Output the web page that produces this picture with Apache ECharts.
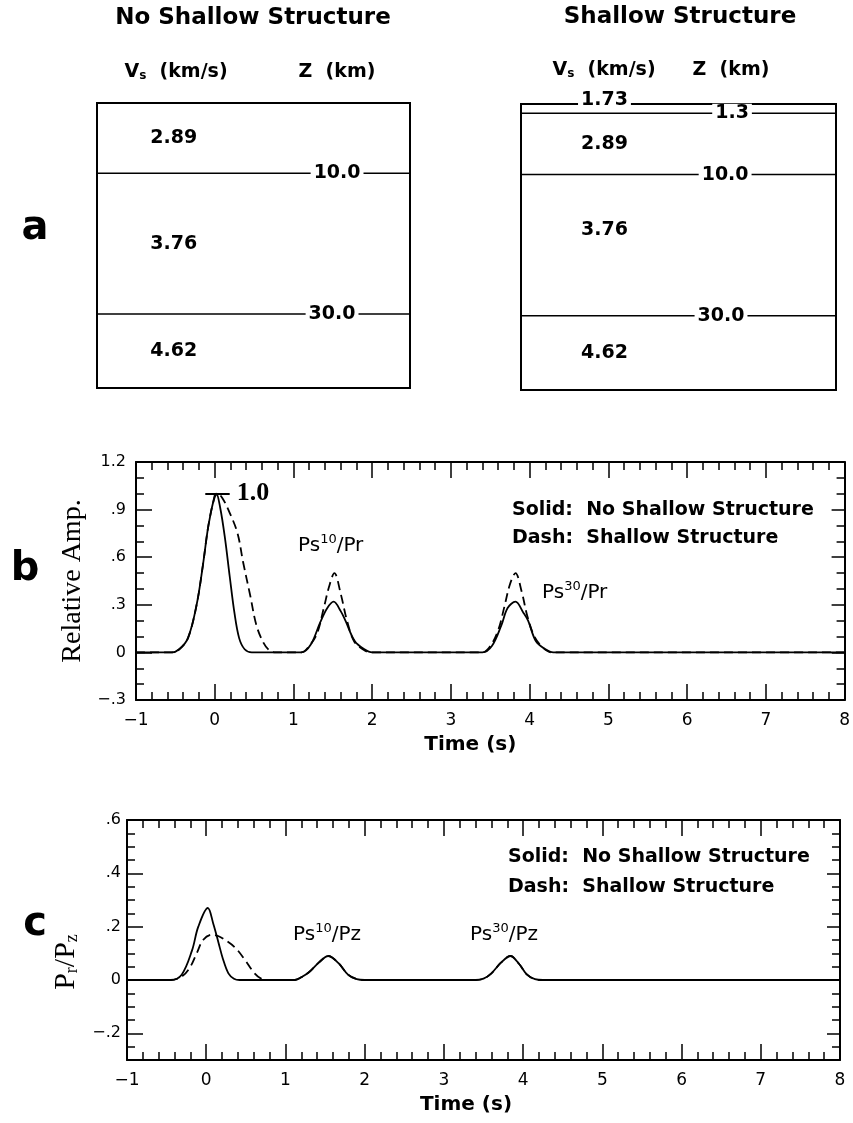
<!DOCTYPE html>
<html>
<head>
<meta charset="utf-8">
<script src="https://cdn.jsdelivr.net/npm/echarts@6/dist/echarts.min.js"></script>
<style>
html, body { margin: 0; padding: 0; background: #fff; }
#chart { width: 853px; height: 1123px; }
</style>
</head>
<body>
<div id="chart"></div>
<script>
// panel a: layered crust models (depth of interfaces in km, Vs in km/s)
var boxBottom = 40.5;
var plainDepths = [10.0, 30.0];
var plainVs = [2.89, 3.76, 4.62];
var shallowDepths = [1.3, 10.0, 30.0];
var shallowVs = [1.73, 2.89, 3.76, 4.62];

// panel b: relative amplitude vs time (s)
var ampSolid = [[-1, 0], [-0.55, 0], [-0.45, 0.02], [-0.34, 0.09], [-0.23, 0.3], [-0.15, 0.55], [-0.08, 0.8],
  [0.0, 0.99], [0.02, 1.0], [0.07, 0.91], [0.13, 0.72], [0.19, 0.48], [0.25, 0.25], [0.31, 0.09], [0.38, 0.02],
  [0.47, 0], [1.1, 0], [1.22, 0.05], [1.34, 0.19], [1.43, 0.28], [1.51, 0.32], [1.6, 0.26], [1.66, 0.2],
  [1.78, 0.07], [1.9, 0.02], [2.0, 0], [3.4, 0], [3.52, 0.04], [3.64, 0.17], [3.72, 0.28], [3.82, 0.32],
  [3.92, 0.25], [3.98, 0.2], [4.08, 0.07], [4.2, 0.02], [4.3, 0], [8, 0]];
var ampDash = [[-1, 0], [-0.55, 0], [-0.45, 0.02], [-0.34, 0.09], [-0.23, 0.3], [-0.15, 0.55], [-0.08, 0.8],
  [0.0, 0.98], [0.04, 1.0], [0.1, 0.97], [0.19, 0.88], [0.29, 0.75], [0.36, 0.57], [0.45, 0.36], [0.53, 0.17],
  [0.62, 0.06], [0.7, 0.01], [0.78, 0], [1.1, 0], [1.2, 0.04], [1.3, 0.12], [1.39, 0.29], [1.45, 0.41],
  [1.52, 0.5], [1.6, 0.37], [1.68, 0.2], [1.77, 0.07], [1.88, 0.02], [1.98, 0], [3.4, 0], [3.5, 0.04],
  [3.6, 0.14], [3.68, 0.29], [3.75, 0.43], [3.82, 0.5], [3.9, 0.38], [3.97, 0.23], [4.06, 0.1], [4.17, 0.03],
  [4.28, 0], [8, 0]];

// panel c: Pr/Pz vs time (s)
var ratioSolid = [[-1, 0], [-0.45, 0], [-0.31, 0.02], [-0.18, 0.11], [-0.1, 0.2], [0.02, 0.27], [0.09, 0.21],
  [0.155, 0.14], [0.21, 0.08], [0.28, 0.025], [0.35, 0.005], [0.42, 0], [1.12, 0], [1.2, 0.01], [1.3, 0.03],
  [1.42, 0.065], [1.54, 0.09], [1.67, 0.063], [1.79, 0.02], [1.9, 0.003], [2.0, 0], [3.4, 0], [3.5, 0.005],
  [3.6, 0.025], [3.72, 0.065], [3.84, 0.09], [3.95, 0.06], [4.05, 0.02], [4.15, 0.003], [4.25, 0], [8, 0]];
var ratioDash = [[-1, 0], [-0.45, 0], [-0.3, 0.015], [-0.2, 0.05], [-0.12, 0.1], [-0.04, 0.15], [0.07, 0.17],
  [0.15, 0.165], [0.24, 0.15], [0.37, 0.12], [0.49, 0.075], [0.61, 0.025], [0.7, 0.004], [0.78, 0], [1.12, 0],
  [1.2, 0.01], [1.3, 0.03], [1.42, 0.065], [1.54, 0.09], [1.67, 0.063], [1.79, 0.02], [1.9, 0.003], [2.0, 0],
  [3.4, 0], [3.5, 0.005], [3.6, 0.025], [3.72, 0.065], [3.84, 0.09], [3.95, 0.06], [4.05, 0.02], [4.15, 0.003],
  [4.25, 0], [8, 0]];

var timeRange = [-1, 8];
var ampRange = [-0.3, 1.2];
var ratioRange = [-0.3, 0.6];
var refAmp = 1.0;

var SANS = '"DejaVu Sans", sans-serif';
var SERIF = '"Liberation Serif", "DejaVu Serif", serif';
var black = '#000';

function decLabel(v) {
  if (Math.abs(v) < 1e-9) return '0';
  var s = Math.abs(v).toFixed(1);
  if (s.charAt(0) === '0') s = s.slice(1);
  return (v < 0 ? '\u2212' : '') + s;
}
function timeLabel(v) {
  return v < 0 ? '\u2212' + (-v) : String(v);
}

// layer box: interfaces as lines, Vs and depth as labels
function layerSeries(idx, depths, vs, vsX, depthX, vsNudge) {
  var out = [];
  depths.forEach(function (d) {
    out.push({
      type: 'line', xAxisIndex: idx, yAxisIndex: idx, data: [[0, d], [1, d]],
      showSymbol: false, silent: true, lineStyle: { color: black, width: 1.5 }, z: 2
    });
  });
  var bounds = [0].concat(depths, [boxBottom]);
  var vsData = vs.map(function (v, i) {
    var mid = (bounds[i] + bounds[i + 1]) / 2;
    if (bounds[i + 1] - bounds[i] < 3) mid = bounds[i];
    return { value: [vsX, mid], name: v.toFixed(2), label: { offset: [0, vsNudge[i]] } };
  });
  var labelStyle = {
    show: true, position: 'inside', formatter: '{b}', color: black,
    fontFamily: SANS, fontWeight: 'bold', fontSize: 19,
    backgroundColor: '#fff', padding: [0, 3]
  };
  out.push({
    type: 'scatter', xAxisIndex: idx, yAxisIndex: idx, symbolSize: 0, silent: true, clip: false, z: 5,
    itemStyle: { opacity: 1 }, data: vsData, label: labelStyle
  });
  var dData = depths.map(function (d, i) {
    return { value: [depthX[i], d], name: d.toFixed(1) };
  });
  out.push({
    type: 'scatter', xAxisIndex: idx, yAxisIndex: idx, symbolSize: 0, silent: true, clip: false, z: 5,
    itemStyle: { opacity: 1 }, data: dData, label: labelStyle
  });
  return out;
}

function timeAxes(grid, nameShift) {
  var base = {
    type: 'value', gridIndex: grid, min: timeRange[0], max: timeRange[1], interval: 1,
    axisLine: { onZero: false, lineStyle: { color: black, width: 2 } },
    axisTick: { inside: true, length: 16, lineStyle: { color: black, width: 1.5 } },
    minorTick: { show: true, splitNumber: 5, length: 8, lineStyle: { color: black, width: 1.5 } },
    splitLine: { show: false }, minorSplitLine: { show: false }
  };
  return [
    Object.assign({}, base, {
      position: 'bottom', name: 'Time (s)', nameLocation: 'middle', nameGap: 35,
      nameTextStyle: { fontFamily: SANS, fontWeight: 'bold', fontSize: 20, color: black, padding: [0, nameShift, 0, 0] },
      axisLabel: { margin: 12, fontFamily: SANS, fontSize: 17, color: black, formatter: timeLabel }
    }),
    Object.assign({}, base, { position: 'top', axisLabel: { show: false } })
  ];
}

function valueAxes(grid, range, step, minorSplit, name, nameGap, nameRich, namePad, labelMargin) {
  var base = {
    type: 'value', gridIndex: grid, min: range[0], max: range[1],
    axisLine: { onZero: false, lineStyle: { color: black, width: 2 } },
    axisTick: { inside: true, length: 16, lineStyle: { color: black, width: 1.5 } },
    minorTick: { show: true, splitNumber: minorSplit, length: 8, lineStyle: { color: black, width: 1.5 } },
    splitLine: { show: false }, minorSplitLine: { show: false }
  };
  if (step) base.interval = step; else base.splitNumber = 5;
  return [
    Object.assign({}, base, {
      position: 'left', name: name, nameLocation: 'middle', nameRotate: 90, nameGap: nameGap,
      nameTextStyle: { fontFamily: SERIF, fontSize: 28, color: black, rich: nameRich, padding: namePad },
      axisLabel: {
        margin: labelMargin, fontFamily: SANS, fontSize: 16, color: black,
        formatter: function (v) { return v < range[0] + 1e-6 && !step ? '' : decLabel(v); }
      }
    }),
    Object.assign({}, base, { position: 'right', axisLabel: { show: false }, axisTick: Object.assign({}, base.axisTick, { length: 13 }) })
  ];
}

var hiddenX = function (g) { return { type: 'value', gridIndex: g, min: 0, max: 1, show: false }; };
var hiddenY = function (g) { return { type: 'value', gridIndex: g, min: 0, max: boxBottom, inverse: true, show: false }; };

var tb = timeAxes(2, 40), tc = timeAxes(3, 35);
var yb = valueAxes(2, ampRange, 0.3, 3, 'Relative Amp.', 35, null, [0, 0, 0, 0], 10);
var yc = valueAxes(3, ratioRange, null, 4, '{p|P}{s|r}{p|/P}{s|z}', 33, {
  p: { fontFamily: SERIF, fontSize: 30, color: black },
  s: { fontFamily: SERIF, fontSize: 18, color: black, verticalAlign: 'bottom' }
}, [0, 44, 0, 0], 6);

var lineBase = { type: 'line', showSymbol: false, silent: true, smooth: 0.35, z: 3 };
function curve(xi, data, dashed, extra) {
  return Object.assign({}, lineBase, {
    xAxisIndex: xi, yAxisIndex: xi, data: data,
    lineStyle: { color: black, width: 1.8, type: dashed ? [9, 5] : 'solid' }
  }, extra || {});
}

// xAxis / yAxis indices: 0 a-left, 1 a-right, 2/3 panel b, 4/5 panel c
var series = []
  .concat(layerSeries(0, plainDepths, plainVs, 0.245, [0.767, 0.751], [0, 0, 0]))
  .concat(layerSeries(1, shallowDepths, shallowVs, 0.265, [0.67, 0.648, 0.635], [-4, 0, -15, 0]))
  .concat([
    curve(2, ampSolid, false),
    curve(2, ampDash, true, {
      markLine: {
        silent: true, symbol: ['none', 'none'],
        lineStyle: { color: black, width: 2, type: 'solid' },
        label: { show: true, position: 'end', distance: 7, formatter: refAmp.toFixed(1),
          fontFamily: SERIF, fontWeight: 'bold', fontSize: 26, color: black },
        data: [[{ coord: [-0.12, refAmp] }, { coord: [0.19, refAmp] }]]
      }
    }),
    curve(4, ratioSolid, false),
    curve(4, ratioDash, true)
  ]);

function txt(x, y, text, font, align, rich) {
  return { type: 'text', x: x, y: y, silent: true, z: 10,
    style: { text: text, font: font, fill: black, align: align || 'left', verticalAlign: 'middle', rich: rich } };
}
var boldFont = 'bold 19px ' + SANS;
var vsRich = {
  v: { fontFamily: SANS, fontWeight: 'bold', fontSize: 19, fill: black },
  s: { fontFamily: SANS, fontWeight: 'bold', fontSize: 12, fill: black, verticalAlign: 'bottom' }
};
var psRich = {
  n: { fontFamily: SANS, fontSize: 20, fill: black, lineHeight: 25 },
  u: { fontFamily: SANS, fontSize: 13, fill: black, verticalAlign: 'top', lineHeight: 25 }
};

var chart = echarts.init(document.getElementById('chart'), null, { renderer: 'canvas' });
chart.setOption({
  backgroundColor: '#fff',
  animation: false,
  grid: [
    { left: 97, top: 103, width: 313, height: 285, show: true, borderColor: black, borderWidth: 2 },
    { left: 521, top: 104, width: 315, height: 286, show: true, borderColor: black, borderWidth: 2 },
    { left: 136, top: 462, width: 710, height: 238 },
    { left: 127, top: 820, width: 713, height: 240 }
  ],
  xAxis: [hiddenX(0), hiddenX(1), tb[0], tb[1], tc[0], tc[1]],
  yAxis: [hiddenY(0), hiddenY(1), yb[0], yb[1], yc[0], yc[1]],
  series: series,
  graphic: [
    txt(253, 18, 'No Shallow Structure', 'bold 23px ' + SANS, 'center'),
    txt(680, 17, 'Shallow Structure', 'bold 23px ' + SANS, 'center'),
    txt(176, 72, '{v|V}{s|s}{v|  (km/s)}', boldFont, 'center', vsRich),
    txt(337, 72, 'Z  (km)', boldFont, 'center'),
    txt(604, 70, '{v|V}{s|s}{v|  (km/s)}', boldFont, 'center', vsRich),
    txt(731, 70, 'Z  (km)', boldFont, 'center'),
    txt(35, 229, 'a', 'bold 40px ' + SANS, 'center'),
    txt(25, 570, 'b', 'bold 40px ' + SANS, 'center'),
    txt(35, 925, 'c', 'bold 40px ' + SANS, 'center'),
    txt(512, 510, 'Solid:  No Shallow Structure', boldFont),
    txt(512, 538, 'Dash:  Shallow Structure', boldFont),
    txt(508, 857, 'Solid:  No Shallow Structure', boldFont),
    txt(508, 887, 'Dash:  Shallow Structure', boldFont),
    txt(298, 546, '{n|Ps}{u|10}{n|/Pr}', '20px ' + SANS, 'left', psRich),
    txt(542, 593, '{n|Ps}{u|30}{n|/Pr}', '20px ' + SANS, 'left', psRich),
    txt(293, 935, '{n|Ps}{u|10}{n|/Pz}', '20px ' + SANS, 'left', psRich),
    txt(470, 935, '{n|Ps}{u|30}{n|/Pz}', '20px ' + SANS, 'left', psRich)
  ]
});
</script>
</body>
</html>
